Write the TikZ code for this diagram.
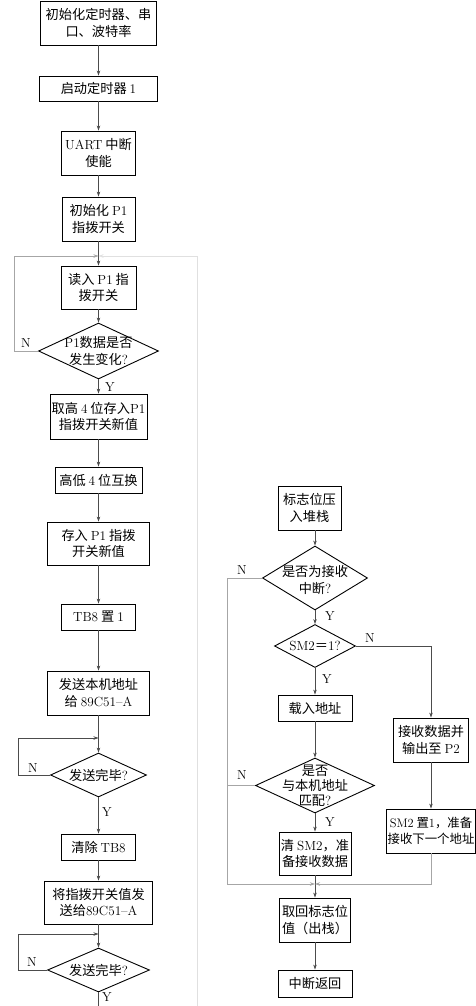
\documentclass[tikz,border=0pt]{standalone}
\usepackage{fontspec}
\newfontfamily\cjk{Noto Sans CJK SC}
\usetikzlibrary{shapes.geometric,arrows.meta}
\newcommand\cjkfs{\fontsize{13.2}{16.5}\selectfont\cjk}
\newcommand\la[1]{{\rmfamily #1}}
\tikzset{
  box/.style={draw, line width=0.9pt, inner sep=0pt, align=center, font=\cjkfs},
  dia/.style={draw, diamond, line width=0.9pt, inner sep=0pt},
  lbl/.style={inner sep=0pt, align=center, font=\cjkfs},
  conn/.style={draw=black!70, line width=0.6pt, -{Stealth[length=5pt,width=3.5pt]}},
  plain/.style={draw=black!70, line width=0.6pt},
  faint/.style={draw=black!35, line width=0.6pt},
  fainter/.style={draw=black!12, line width=0.8pt},
  yn/.style={font=\rmfamily\fontsize{13}{13}\selectfont, inner sep=0pt}
}
\begin{document}
\begin{tikzpicture}[x=1pt,y=-1pt]
\useasboundingbox (0,0) rectangle (476,1006);
% ---------- left chart ----------
\node[box, minimum width=116, minimum height=44] (L1) at (98.5,23) {初始化定时器、串\\口、波特率};
\node[box, minimum width=118, minimum height=25] (L2) at (98.5,88.5) {启动定时器 \la{1}};
\node[box, minimum width=74, minimum height=44] (L3) at (98.5,153) {\la{UART} 中断\\使能};
\node[box, minimum width=73, minimum height=44] (L4) at (98.5,219) {初始化 \la{P1}\\指拨开关};
\coordinate (M1) at (98.5,256);
\node[box, minimum width=75, minimum height=43] (L5) at (98.5,287.5) {读入 \la{P1} 指\\拨开关};
\node[dia, minimum width=120, minimum height=56] (D1) at (98.5,351) {};
\node[lbl] (D1t) at (D1) {\la{P1}数据是否\\发生变化\la{?}};
\node[box, minimum width=97, minimum height=45] (L6) at (98.5,416.5) {取高 \la{4} 位存入\la{P1}\\指拨开关新值};
\node[box, minimum width=87, minimum height=26] (L7) at (98.5,480) {高低 \la{4} 位互换};
\node[box, minimum width=102, minimum height=43] (L8) at (98.5,543.5) {存入 \la{P1} 指拨\\开关新值};
\node[box, minimum width=74, minimum height=26] (L9) at (98.5,617) {\la{TB8} 置 \la{1}};
\node[box, minimum width=102, minimum height=44] (L10) at (98.5,693) {发送本机地址\\给 \la{89C51--A}};
\node[dia, minimum width=96, minimum height=44] (D2) at (98.5,775) {};
\node[lbl] (D2t) at (D2) {发送完毕\la{?}};
\node[box, minimum width=74, minimum height=26] (L11) at (98.5,847) {清除 \la{TB8}};
\node[box, minimum width=108, minimum height=43] (L12) at (98.5,902.5) {将指拨开关值发\\送给\la{89C51--A}};
\node[dia, minimum width=102, minimum height=44] (D3) at (98.5,970) {};
\node[lbl] (D3t) at (D3) {发送完毕\la{?}};
\coordinate (M2) at (98.5,738);
\coordinate (M3) at (98.5,934);
\coordinate (Lend) at (98.5,1006);
\coordinate (Rend) at (197,1006);

\draw[conn] (L1) -- (L2);
\draw[conn] (L2) -- (L3);
\draw[conn] (L3) -- (L4);
\draw[conn] (L4) -- (L5);
\draw[conn] (L5) -- (D1);
\draw[conn] (D1) -- (L6);
\draw[conn] (L6) -- (L7);
\draw[conn] (L7) -- (L8);
\draw[conn] (L8) -- (L9);
\draw[conn] (L9) -- (L10);
\draw[conn] (L10) -- (D2);
\draw[conn] (D2) -- (L11);
\draw[conn] (L11) -- (L12);
\draw[conn] (L12) -- (D3);
\draw[plain] (D3.south) -- (Lend);
% loops
\draw[faint, -{Stealth[length=5pt,width=3.5pt]}] (D1.west) -- (14,351) -- (14,256) -- (M1);
\draw[fainter, -{Stealth[length=5pt,width=3.5pt]}] (Rend) -- (197,256) -- (M1);
\draw[conn] (D2.west) -- (18,775) -- (18,738) -- (M2);
\draw[conn] (D3.west) -- (18,970) -- (18,934) -- (M3);
% labels
\node[yn] (n1) at (26,343) {N};
\node[yn] (y1) at (110,387) {Y};
\node[yn] (n2) at (33,768) {N};
\node[yn] (y2) at (107,812) {Y};
\node[yn] (n3) at (32,962) {N};
\node[yn] (y3) at (107,997) {Y};

% ---------- right chart ----------
\node[box, minimum width=63, minimum height=44] (R1) at (309.5,508) {标志位压\\入堆栈};
\node[dia, minimum width=105, minimum height=64] (DA) at (315,578) {};
\node[lbl] (DAt) at (315,580) {是否为接收\\中断\la{?}};
\node[dia, minimum width=81, minimum height=43] (DB) at (315,646) {};
\node[lbl] (DBt) at (DB) {\la{SM2}＝\la{1?}};
\node[box, minimum width=74, minimum height=26] (R2) at (315,708) {载入地址};
\node[dia, minimum width=119, minimum height=55] (DC) at (315,785.5) {};
\node[lbl, font=\fontsize{13.2}{15}\selectfont\cjk] (DCt) at (315,785.5) {是否\\与本机地址\\匹配\la{?}};
\node[box, minimum width=72, minimum height=43] (R4) at (315,853.5) {清 \la{SM2}，准\\备接收数据};
\node[box, minimum width=71, minimum height=44] (R6) at (315,920) {取回标志位\\值（出栈）};
\node[box, minimum width=74, minimum height=27] (R7) at (315,983.5) {中断返回};
\node[box, minimum width=75, minimum height=44] (R3) at (431,740) {接收数据并\\输出至 \la{P2}};
\node[box, minimum width=89, minimum height=44, font=\fontsize{12.4}{16.5}\selectfont\cjk] (R5) at (431,831) {\la{SM2} 置\la{1}，准备\\接收下一个地址};
\coordinate (M4) at (315,884);

\draw[conn] (R1.south -| DA.north) -- (DA.north);
\draw[conn] (DA) -- (DB);
\draw[conn] (DB) -- (R2);
\draw[conn] (R2) -- (DC);
\draw[conn] (DC) -- (R4);
\draw[conn] (R4) -- (R6);
\draw[conn] (R6) -- (R7);
\draw[conn] (DB.east) -| (R3.north);
\draw[conn] (R3) -- (R5);
\draw[faint, -{Stealth[length=5pt,width=3.5pt]}] (DA.west) -- (227,578) -- (227,884) -- (M4);
\draw[faint] (DC.west) -- (227,785.5);
\draw[faint, -{Stealth[length=5pt,width=3.5pt]}] (R5.south) -- (431,884) -- (M4);

\node[yn] (nA) at (242,570) {N};
\node[yn] (yA) at (330,616) {Y};
\node[yn] (nB) at (370,638) {N};
\node[yn] (yB) at (327,679) {Y};
\node[yn] (nC) at (242,775) {N};
\node[yn] (yC) at (330,822) {Y};
\end{tikzpicture}
\end{document}
